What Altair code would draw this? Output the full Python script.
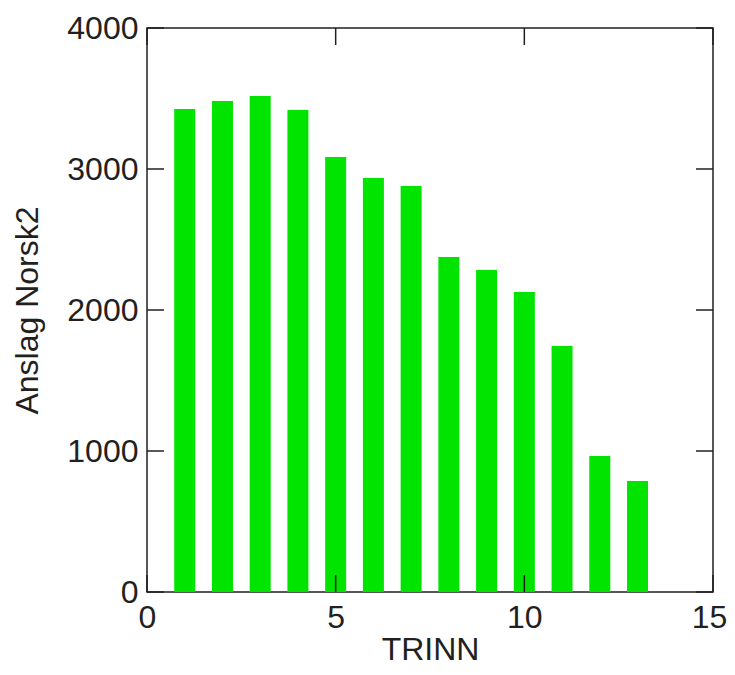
import altair as alt
import pandas as pd

trinn = list(range(1, 14))
anslag = [3425, 3482, 3518, 3418, 3085, 2936, 2879, 2376, 2284, 2128, 1745, 965, 787]
x_ticks = [0, 5, 10, 15]
y_ticks = [0, 1000, 2000, 3000, 4000]

W, H = 566, 564
TL = 17
FONT = "Liberation Sans"
INK = "#231f20"

df = pd.DataFrame({"TRINN": trinn, "Anslag": anslag})
xt = pd.DataFrame({"TRINN": x_ticks})
yt = pd.DataFrame({"Anslag": y_ticks})

xs = alt.Scale(domain=[0, 15], nice=False, zero=False, padding=0)
ys = alt.Scale(domain=[0, 4000], nice=False, padding=0)

x_axis = alt.Axis(
    values=x_ticks, title="TRINN", tickSize=0, domain=False, grid=False, format="d",
    labelFontSize=32, titleFontSize=32, titleFontWeight="normal",
    labelPadding=10, titlePadding=1, labelColor=INK, titleColor=INK,
    labelOffset={"condition": {"test": "datum.value == 15", "value": -4}, "value": 0},
    labelFont=FONT, titleFont=FONT, labelFlush=False)
y_axis = alt.Axis(
    values=y_ticks, title="Anslag Norsk2", tickSize=0, domain=False, grid=False, format="d",
    labelFontSize=32, titleFontSize=32, titleFontWeight="normal",
    labelPadding=9, titlePadding=22, labelColor=INK, titleColor=INK,
    labelFont=FONT, titleFont=FONT, labelFlush=False)

bars = alt.Chart(df).mark_bar(color="#00e400", size=21).encode(
    x=alt.X("TRINN:Q", scale=xs, axis=x_axis),
    y=alt.Y("Anslag:Q", scale=ys, axis=y_axis),
)

rule = dict(color=INK, strokeWidth=1.5)
xb = alt.Chart(xt).mark_rule(**rule).encode(
    x=alt.X("TRINN:Q", scale=xs, axis=x_axis), y=alt.value(H), y2=alt.value(H - TL))
xtop = alt.Chart(xt).mark_rule(**rule).encode(
    x=alt.X("TRINN:Q", scale=xs, axis=x_axis), y=alt.value(0), y2=alt.value(TL))
yl = alt.Chart(yt).mark_rule(**rule).encode(
    y=alt.Y("Anslag:Q", scale=ys, axis=y_axis), x=alt.value(0), x2=alt.value(TL))
yr = alt.Chart(yt).mark_rule(**rule).encode(
    y=alt.Y("Anslag:Q", scale=ys, axis=y_axis), x=alt.value(W), x2=alt.value(W - TL))

chart = alt.layer(bars, xb, xtop, yl, yr).properties(
    width=W, height=H,
    autosize=alt.AutoSizeParams(type="none"),
    padding={"left": 139, "top": 20, "right": 14, "bottom": 75},
).configure_view(stroke=INK, strokeWidth=1.5)

chart.save("out.html", embed_options={"renderer": "svg", "actions": False})
